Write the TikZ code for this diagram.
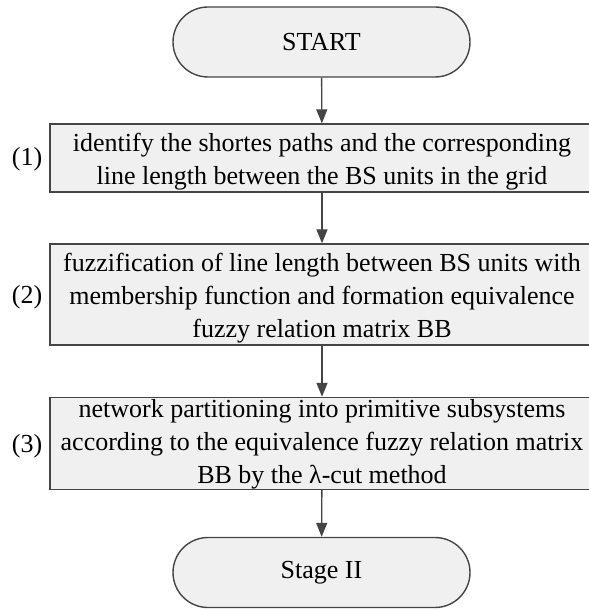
\documentclass[tikz,border=0pt]{standalone}
\usepackage{fontspec}
\setmainfont{Liberation Serif}
\usetikzlibrary{arrows.meta}
\definecolor{boxfill}{HTML}{F0F0F0}
\definecolor{edge}{HTML}{454545}
\begin{document}
\begin{tikzpicture}[x=1pt,y=-1pt,
  every node/.style={font=\fontsize{26}{33}\selectfont, inner sep=0pt},
  terminal/.style={draw=edge, fill=boxfill, line width=1.4pt, rounded corners=35pt,
    minimum width=297pt, minimum height=70pt},
  stepbox/.style={draw=edge, fill=boxfill, line width=1.4pt, minimum width=544pt},
  steptext/.style={align=center, yshift=-4pt},
  steplabel/.style={anchor=center},
  arr/.style={draw=edge, line width=1.4pt, -{Triangle[length=14pt,width=11pt]}}]
  \useasboundingbox (0,0) rectangle (588,609);

  % terminals
  \node[terminal] (start) at (321.5,42) {START};
  \node[terminal] (stage) at (321.5,572.5) {Stage II};

  % processing steps: frame first, then its text
  \node[stepbox, minimum height=68pt] (b1) at (322,158) {};
  \node[steptext] (t1) at (b1)
    {identify the shortes paths and the corresponding\\
     line length between the BS units in the grid};
  \node[stepbox, minimum height=101pt] (b2) at (322,294.5) {};
  \node[steptext] (t2) at (b2)
    {fuzzification of line length between BS units with\\
     membership function and formation equivalence\\
     fuzzy relation matrix BB};
  \node[stepbox, minimum height=92pt] (b3) at (322,443.5) {};
  \node[steptext, yshift=3.5pt] (t3) at (b3)
    {network partitioning into primitive subsystems\\
     according to the equivalence fuzzy relation matrix\\
     BB by the λ-cut method};

  % step numbers
  \node[steplabel] (l1) at (27,159) {(1)};
  \node[steplabel] (l2) at (27,297) {(2)};
  \node[steplabel] (l3) at (27,446) {(3)};

  % flow
  \draw[arr] (start) -- (b1);
  \draw[arr] (b1) -- (b2);
  \draw[arr] (b2) -- (b3);
  \draw[arr] (b3) -- (stage);
\end{tikzpicture}
\end{document}
